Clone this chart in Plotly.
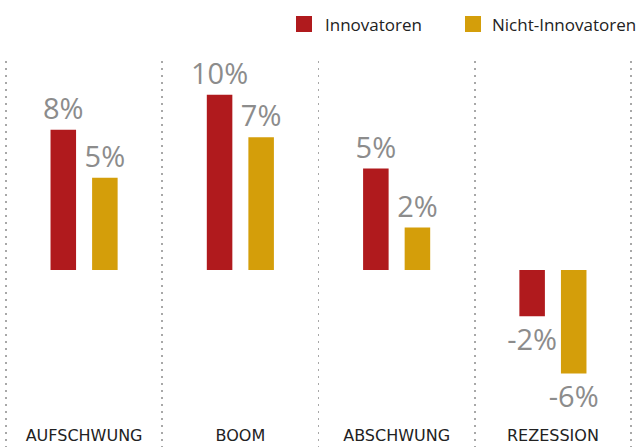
import plotly.graph_objects as go

# ---- data ----
categories = ["AUFSCHWUNG", "BOOM", "ABSCHWUNG", "REZESSION"]
series_names = ["Innovatoren", "Nicht-Innovatoren"]
innovatoren = [7.6, 9.5, 5.5, -2.5]
nicht_innovatoren = [5.0, 7.2, 2.3, -5.6]
labels_innovatoren = ["8%", "10%", "5%", "-2%"]
labels_nicht = ["5%", "7%", "2%", "-6%"]

colors = ["#B01A1D", "#D49E0A"]
value_font = dict(family="Open Sans", size=29, color="#8C8C8C")

fig = go.Figure()
for name, vals, labs, col in [
    (series_names[0], innovatoren, labels_innovatoren, colors[0]),
    (series_names[1], nicht_innovatoren, labels_nicht, colors[1]),
]:
    fig.add_trace(go.Bar(
        x=categories, y=vals, name=name,
        marker=dict(color=col, line=dict(width=0)),
        text=labs, textposition="outside", textfont=value_font,
        constraintext="none", cliponaxis=False, showlegend=False,
        hoverinfo="skip",
    ))

W, H = 637, 447
T, B = 61, 0
ph = H - T - B


def py(p):
    return (H - B - p) / ph


def px(p):
    return p / W


# manual legend
legend_items = [(296, 323), (465, 490)]
for (sx, tx), name, col in zip(legend_items, series_names, colors):
    fig.add_shape(type="rect", xref="paper", yref="paper",
                  x0=px(sx), x1=px(sx + 16), y0=py(32), y1=py(16),
                  fillcolor=col, line=dict(width=0))
    fig.add_annotation(xref="paper", yref="paper", x=px(tx), y=py(24),
                       xanchor="left", yanchor="middle", text=name,
                       showarrow=False,
                       font=dict(family="Open Sans", size=17, color="#222222"))

fig.update_layout(
    width=W, height=H,
    margin=dict(l=0, r=0, t=T, b=B, pad=0),
    paper_bgcolor="white", plot_bgcolor="white",
    barmode="group", bargap=0.468, bargroupgap=0.386,
    xaxis=dict(
        type="category", range=[-0.538, 3.538], tickson="boundaries",
        showgrid=True, gridcolor="#A8A8A8", gridwidth=1.5, griddash="2px,5px",
        ticks="", showline=False, zeroline=False,
        ticklabelposition="inside",
        tickfont=dict(family="DejaVu Sans", size=16, color="#222222"),
    ),
    yaxis=dict(range=[-9.59, 11.33], visible=False, showgrid=False,
               zeroline=False),
)

fig.write_html("out.html",
               config={"displayModeBar": False, "staticPlot": True},
               post_script="document.body.style.margin='0';document.body.style.overflow='hidden';")
